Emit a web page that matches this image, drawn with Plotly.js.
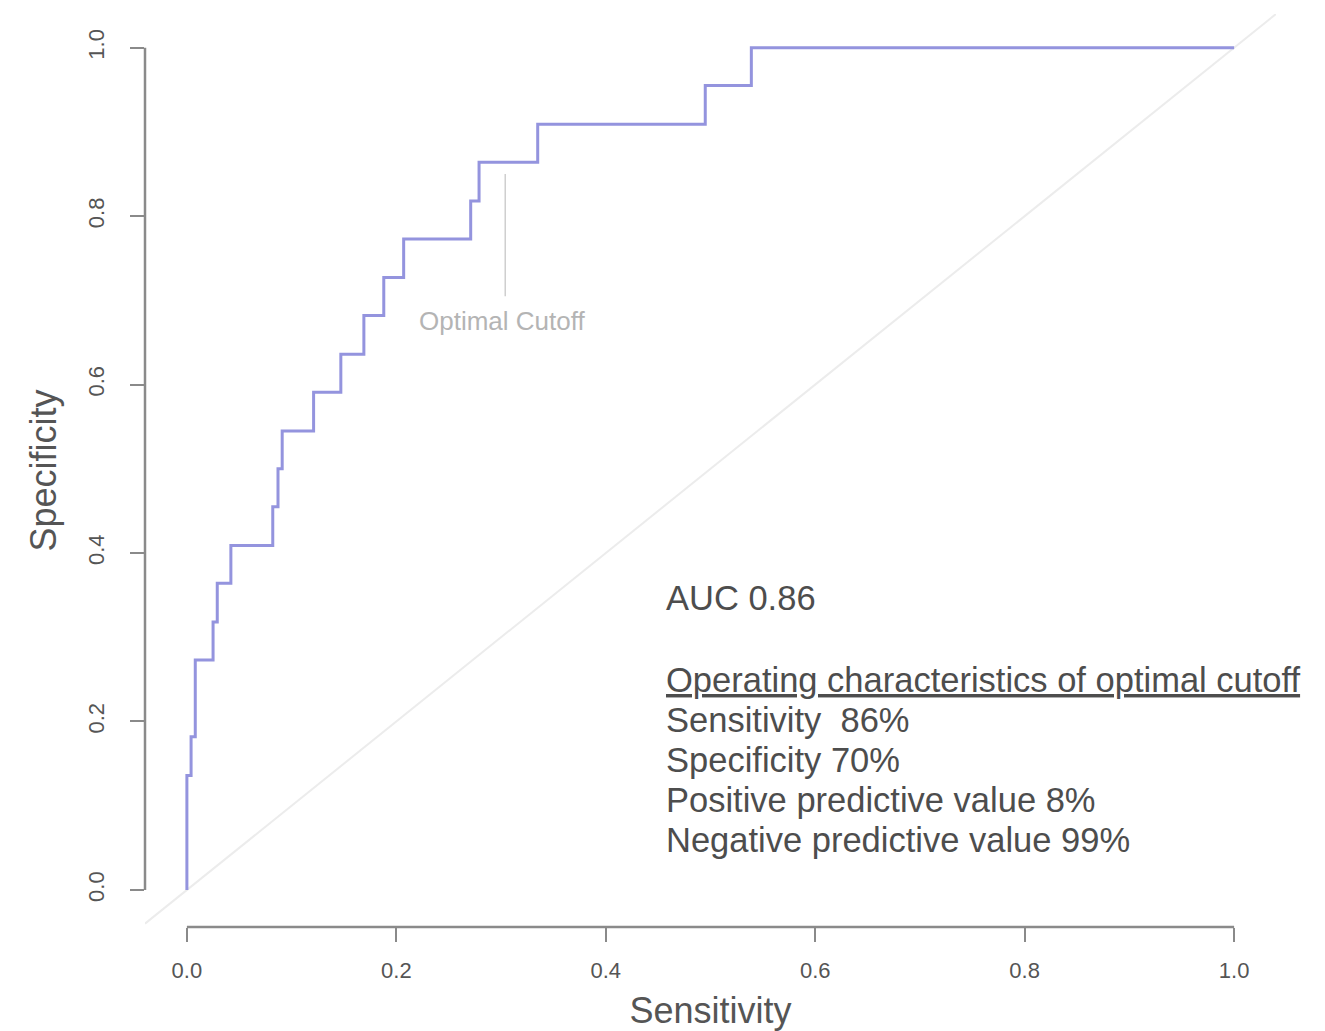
<!DOCTYPE html>
<html>
<head>
<meta charset="utf-8">
<script src="https://cdn.plot.ly/plotly-3.0.1.min.js"></script>
<style>
  html, body { margin: 0; padding: 0; background: #ffffff; }
  #roc { width: 1325px; height: 1031px; }
</style>
</head>
<body>
<div id="roc"></div>
<script>
// ROC curve: step coordinates (x = 1 - specificity scale, y = sensitivity scale)
const rocX = [0, 0, 0.004, 0.008, 0.025, 0.029, 0.042, 0.082, 0.087, 0.091, 0.121,
              0.147, 0.169, 0.188, 0.207, 0.271, 0.279, 0.335, 0.495, 0.539, 1.0];
const rocY = [0, 0.136, 0.182, 0.273, 0.318, 0.364, 0.409, 0.455, 0.500, 0.545, 0.591,
              0.636, 0.682, 0.727, 0.773, 0.818, 0.864, 0.909, 0.955, 1.0, 1.0];

// Optimal cutoff marker segment and its label position
const cutoffX = [0.304, 0.304];
const cutoffY = [0.85, 0.705];
const cutoffLabel = 'Optimal Cutoff';
const cutoffLabelPos = [0.301, 0.676];

// Chance diagonal
const chanceX = [-0.04, 1.04];
const chanceY = [-0.04, 1.04];

// Axis ticks
const tickVals = [0, 0.2, 0.4, 0.6, 0.8, 1.0];
const tickText = ['0.0', '0.2', '0.4', '0.6', '0.8', '1.0'];

// Summary statistics block
const aucValue = 0.86;
const opSensitivity = 86;
const opSpecificity = 70;
const opPPV = 8;
const opNPV = 99;

const statLines = [
  'AUC ' + aucValue.toFixed(2),
  '<u>Operating characteristics of optimal cutoff</u>',
  'Sensitivity\u00A0 ' + opSensitivity + '%',
  'Specificity ' + opSpecificity + '%',
  'Positive predictive value ' + opPPV + '%',
  'Negative predictive value ' + opNPV + '%'
];
const statY = [0.347, 0.249, 0.202, 0.154, 0.107, 0.059];
const statX = 0.456;

const FONT = 'Liberation Sans, Arial, sans-serif';
const TEXT_COLOR = '#4d4d4d';
const AXIS_COLOR = '#8a8a8a';

const traces = [
  {
    x: chanceX, y: chanceY, mode: 'lines', type: 'scatter',
    line: { color: '#ececec', width: 2 }, hoverinfo: 'skip', showlegend: false
  },
  {
    x: cutoffX, y: cutoffY, mode: 'lines', type: 'scatter',
    line: { color: '#cfcfcf', width: 1.5 }, hoverinfo: 'skip', showlegend: false
  },
  {
    x: rocX, y: rocY, mode: 'lines', type: 'scatter',
    line: { color: '#9494de', width: 3, shape: 'hv' }, showlegend: false
  }
];

const annotations = statLines.map((t, i) => ({
  x: statX, y: statY[i], xref: 'x', yref: 'y',
  text: t, showarrow: false, xanchor: 'left', yanchor: 'middle',
  font: { family: FONT, size: 34.5, color: TEXT_COLOR }
}));
annotations.push({
  x: cutoffLabelPos[0], y: cutoffLabelPos[1], xref: 'x', yref: 'y',
  text: cutoffLabel, showarrow: false, xanchor: 'center', yanchor: 'middle',
  font: { family: FONT, size: 26, color: '#b4b4b4' }
});

const layout = {
  width: 1325,
  height: 1031,
  margin: { l: 145, r: 49, t: 14, b: 104 },
  paper_bgcolor: '#ffffff',
  plot_bgcolor: '#ffffff',
  showlegend: false,
  xaxis: {
    range: [-0.04, 1.04],
    tickvals: tickVals, ticktext: tickText,
    ticks: 'outside', ticklen: 14, tickwidth: 2, tickcolor: AXIS_COLOR,
    ticklabelstandoff: 10,
    showline: false, showgrid: false, zeroline: false,
    tickfont: { family: FONT, size: 22, color: '#555555' },
    title: { text: 'Sensitivity', font: { family: FONT, size: 36, color: '#555555' }, standoff: 18 }
  },
  yaxis: {
    range: [-0.044, 1.04],
    tickvals: tickVals, ticktext: tickText, tickangle: -90,
    ticks: 'outside', ticklen: 14, tickwidth: 2, tickcolor: AXIS_COLOR,
    ticklabelstandoff: 17,
    showline: false, showgrid: false, zeroline: false,
    tickfont: { family: FONT, size: 22, color: '#555555' },
    title: { text: 'Specificity', font: { family: FONT, size: 36, color: '#555555' }, standoff: 16 }
  },
  shapes: [
    // detached axis lines spanning only the tick range
    { type: 'line', xref: 'paper', yref: 'y', x0: 0, x1: 0, y0: 0, y1: 1,
      line: { color: AXIS_COLOR, width: 2.5 } },
    { type: 'line', xref: 'x', yref: 'paper', x0: 0, x1: 1, y0: 0, y1: 0,
      line: { color: AXIS_COLOR, width: 2.5 } }
  ],
  annotations: annotations
};

Plotly.newPlot('roc', traces, layout, { displayModeBar: false, staticPlot: true });
</script>
</body>
</html>
